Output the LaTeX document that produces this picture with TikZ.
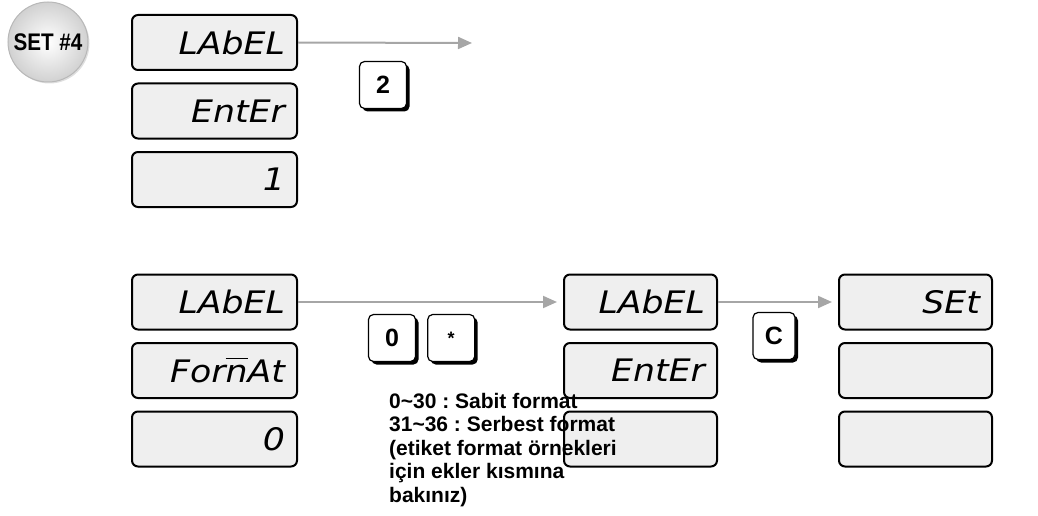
\documentclass[tikz,border=0pt]{standalone}
\usepackage{fontspec}
\setmainfont{Liberation Sans}
\newfontfamily\lcdfont{DejaVu Sans}[FakeStretch=1.12]
\newfontfamily\badgefont{Liberation Sans}[FakeStretch=0.86]
\usetikzlibrary{arrows.meta, positioning, shadows}
\definecolor{lcd-fill}{HTML}{EFEFEF}
\definecolor{flow-gray}{HTML}{A6A6A6}
\definecolor{badge-edge}{HTML}{B8B8B8}
\frenchspacing
\tikzset{
  lcd/.style={
    draw=black, fill=lcd-fill, line width=2pt, rounded corners=6pt,
    minimum height=55pt, text width=#1, align=right, inner xsep=12pt,
    font=\lcdfont\itshape\fontsize{31}{31}\selectfont
  },
  lcd/.default=141pt,
  keycap/.style={
    draw=black, fill=white, line width=1.2pt, rounded corners=5pt,
    minimum size=47pt, font=\bfseries\fontsize{25}{25}\selectfont,
    drop shadow={shadow xshift=3pt, shadow yshift=-3pt, opacity=1, fill=black}
  },
  badge/.style={
    circle, minimum size=80pt, inner color=white, outer color=black!18,
    draw=badge-edge, line width=1pt, font=\badgefont\bfseries\fontsize{24}{24}\selectfont,
    drop shadow={shadow xshift=1.5pt, shadow yshift=-1.5pt, opacity=0.25}
  },
  flow/.style={-{Triangle[length=14pt, width=12pt]}, draw=flow-gray, line width=2pt}
}

\begin{document}
\begin{tikzpicture}[x=1pt, y=-1pt]
  \useasboundingbox (0,0) rectangle (1038,516);

  \node[badge] (set4) at (48, 42) {SET \#4};

  % First display: label entry
  \node[lcd] (lab1) at (214.5, 42.5) {LAbEL};
  \node[lcd, below=11.5pt of lab1] (ent1) {EntEr};
  \node[lcd, below=11.5pt of ent1] (one1) {1};

  \coordinate (next1) at (472, 43);
  \draw[flow] (lab1.east) -- (next1);
  \node[keycap] (key2) at (383, 85) {2};

  % Second display: label format
  \node[lcd] (lab2) at (214.5, 302) {LAbEL};
  \node[lcd, below=11.5pt of lab2] (fmt2) {For$\overline{\hbox{\vphantom{A}n}}$At};
  \node[lcd, below=11.5pt of fmt2] (zero2) {0};

  \node[keycap] (key0) at (392, 338) {0};
  \node[keycap, right=11pt of key0] (keystar) {\fontsize{18}{18}\selectfont*};

  % Third display: label enter
  \node[lcd=129pt] (lab3) at (640.5, 302) {LAbEL};
  \node[lcd=129pt, below=11.5pt of lab3] (ent3) {EntEr};
  \node[lcd=129pt, below=11.5pt of ent3] (blank3) {};

  \draw[flow, shorten >=6pt] (lab2.east) -- (lab3.west);
  \node[keycap, minimum width=42pt] (keyc) at (774, 336) {C};

  % Format note (drawn over the third display)
  \node[anchor=north west, align=left, inner sep=0pt,
        font=\bfseries\fontsize{21}{23.5}\selectfont] (note) at (389, 393)
    {0\textasciitilde30 : Sabit format\\
     31\textasciitilde36 : Serbest format\\
     (etiket format örnekleri\\
     için ekler kısmına\\
     bakınız)};

  % Last display: set
  \node[lcd=129pt] (set5) at (915.5, 302) {SEt};
  \node[lcd=129pt, below=11.5pt of set5] (blank5a) {};
  \node[lcd=129pt, below=11.5pt of blank5a] (blank5b) {};

  \draw[flow, shorten >=6pt] (lab3.east) -- (set5.west);
\end{tikzpicture}
\end{document}
